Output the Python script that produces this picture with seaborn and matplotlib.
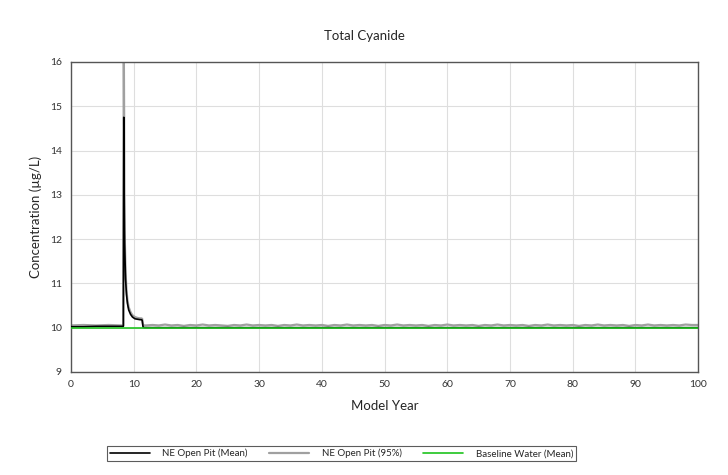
import matplotlib
matplotlib.use("Agg")
import matplotlib.pyplot as plt
import seaborn as sns
import numpy as np
import pandas as pd
from matplotlib.ticker import MultipleLocator

# Data
spike_years = [0, 2, 4, 6, 8, 8.35, 8.42, 8.47, 8.55, 8.7, 8.85, 9.0, 9.2, 9.5,
               9.8, 10.2, 10.6, 11.0, 11.2, 11.35, 11.5, 11.7]
spike_mean = [10.02, 10.02, 10.03, 10.03, 10.03, 10.03, 14.75, 13.2, 11.9, 11.1,
              10.75, 10.55, 10.4, 10.3, 10.24, 10.2, 10.19, 10.18, 10.18, 10.17,
              10.01, 10.0]
spike_p95 = [10.05, 10.06, 10.05, 10.06, 10.05, 10.05, 16.5, 14.9, 12.2, 11.25,
             10.85, 10.62, 10.46, 10.35, 10.28, 10.24, 10.22, 10.21, 10.21, 10.2,
             10.05, 10.05]

tail_years = list(range(12, 101))
tail_mean = [10.0, 10.0, 10.0, 10.0, 10.0, 10.0, 10.0, 10.0, 10.0, 10.0,
             10.0, 10.0, 10.0, 10.0, 10.0, 10.0, 10.0, 10.0, 10.0, 10.0,
             10.0, 10.0, 10.0, 10.0, 10.0, 10.0, 10.0, 10.0, 10.0, 10.0,
             10.0, 10.0, 10.0, 10.0, 10.0, 10.0, 10.0, 10.0, 10.0, 10.0,
             10.0, 10.0, 10.0, 10.0, 10.0, 10.0, 10.0, 10.0, 10.0, 10.0,
             10.0, 10.0, 10.0, 10.0, 10.0, 10.0, 10.0, 10.0, 10.0, 10.0,
             10.0, 10.0, 10.0, 10.0, 10.0, 10.0, 10.0, 10.0, 10.0, 10.0,
             10.0, 10.0, 10.0, 10.0, 10.0, 10.0, 10.0, 10.0, 10.0, 10.0,
             10.0, 10.0, 10.0, 10.0, 10.0, 10.0, 10.0, 10.0, 10.0]
tail_p95 = [10.05, 10.06, 10.05, 10.07, 10.05, 10.06, 10.04, 10.06, 10.05, 10.07,
            10.05, 10.06, 10.05, 10.04, 10.06, 10.05, 10.07, 10.05, 10.06, 10.05,
            10.06, 10.04, 10.06, 10.05, 10.07, 10.05, 10.06, 10.05, 10.06, 10.04,
            10.06, 10.05, 10.07, 10.05, 10.06, 10.05, 10.06, 10.04, 10.06, 10.05,
            10.07, 10.05, 10.06, 10.05, 10.06, 10.04, 10.06, 10.05, 10.07, 10.05,
            10.06, 10.05, 10.06, 10.04, 10.06, 10.05, 10.07, 10.05, 10.06, 10.05,
            10.06, 10.04, 10.06, 10.05, 10.07, 10.05, 10.06, 10.05, 10.06, 10.04,
            10.06, 10.05, 10.07, 10.05, 10.06, 10.05, 10.06, 10.04, 10.06, 10.05,
            10.07, 10.05, 10.06, 10.05, 10.06, 10.05, 10.07, 10.06, 10.06]

baseline_years = [0, 20, 40, 60, 80, 100]
baseline_vals = [10.0, 10.0, 10.0, 10.0, 10.0, 10.0]

years = spike_years + tail_years
df = pd.DataFrame({"Year": years,
                   "Mean": spike_mean + tail_mean,
                   "P95": spike_p95 + tail_p95})

sns.set_style("white")
plt.rcParams["font.family"] = ["Lato", "DejaVu Sans"]

fig = plt.figure(figsize=(7.28, 4.75), dpi=100)
ax = fig.add_axes([0.0975, 0.217, 0.8615, 0.6525])

sns.lineplot(data=df, x="Year", y="P95", color="#a0a0a0", lw=1.6, ax=ax,
             label="NE Open Pit (95%)", zorder=2)
sns.lineplot(data=df, x="Year", y="Mean", color="black", lw=1.2, ax=ax,
             label="NE Open Pit (Mean)", zorder=3)
sns.lineplot(x=baseline_years, y=baseline_vals, color="#1ec31e", lw=1.2, ax=ax,
             label="Baseline Water (Mean)", zorder=4)

ax.set_xlim(0, 100)
ax.set_ylim(9, 16)
ax.xaxis.set_major_locator(MultipleLocator(10))
ax.xaxis.set_minor_locator(MultipleLocator(5))
ax.yaxis.set_major_locator(MultipleLocator(1))
ax.yaxis.set_minor_locator(MultipleLocator(0.5))
ax.grid(True, which="major", color="#dedede", lw=0.8)
ax.set_axisbelow(True)
for s in ax.spines.values():
    s.set_color("#555555")
    s.set_linewidth(1.0)
ax.tick_params(which="both", direction="inout", colors="#333333", labelsize=7.5,
               length=5, width=0.8)
ax.tick_params(which="minor", length=4)
ax.tick_params(axis="y", direction="out", length=3)
ax.tick_params(axis="y", which="minor", direction="out", length=3)

ax.set_xlabel("Model Year", fontsize=9.5, labelpad=8)
ax.set_ylabel("Concentration (µg/L)", fontsize=9.5, labelpad=6)
fig.text(0.5, 0.925, "Total Cyanide", ha="center", va="center", fontsize=9.5)

h, l = ax.get_legend_handles_labels()
order = [1, 0, 2]
leg = fig.legend([h[i] for i in order], [l[i] for i in order], loc="center",
                 bbox_to_anchor=(0.469, 0.0455), ncol=3, fontsize=7,
                 frameon=True, fancybox=False, handlelength=4.1,
                 handletextpad=1.3, columnspacing=2.2, borderpad=0.25,
                 borderaxespad=0)
leg.get_frame().set_edgecolor("#333333")
leg.get_frame().set_linewidth(0.8)
ax.get_legend().remove()

fig.savefig("out.png", dpi=100)
